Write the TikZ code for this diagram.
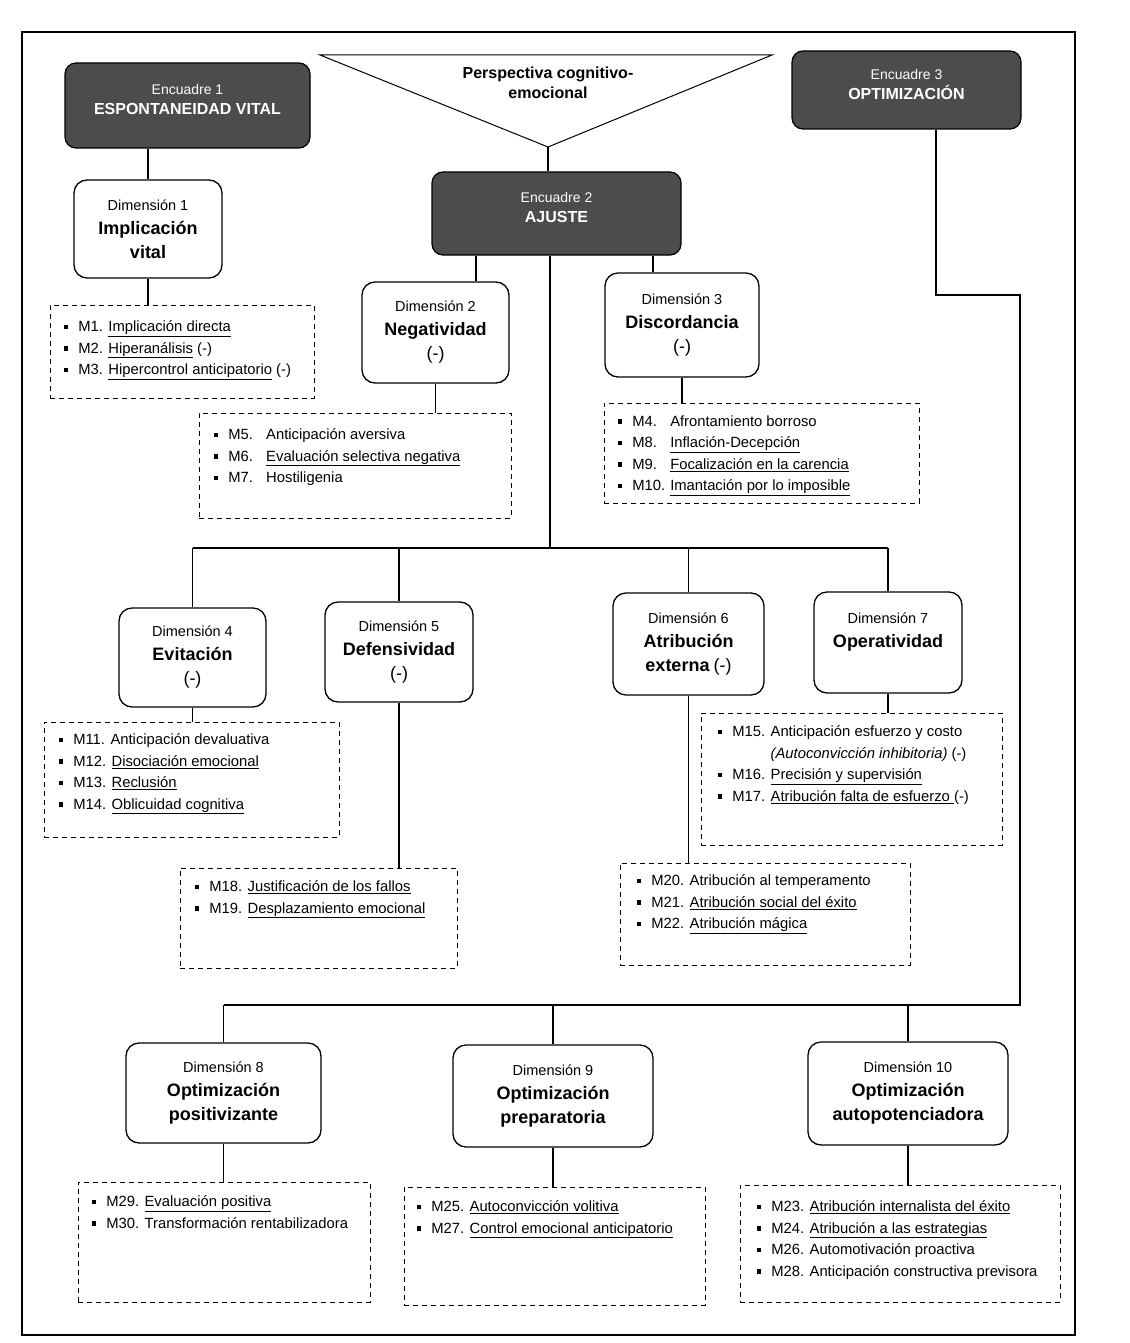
\documentclass[tikz,border=0pt]{standalone}
\usepackage{fontspec}
\setmainfont{Liberation Sans}
\usetikzlibrary{positioning}

\definecolor{encfill}{gray}{0.3}

\newcommand{\sqbul}{\raisebox{2.5pt}{\rule{4.5pt}{4.5pt}}\hspace{10pt}}
\newcommand{\mlab}[1]{\makebox[38pt][l]{#1}}
\newcommand{\itemfont}{\fontsize{14.8}{21.5}\selectfont}
\newcommand{\enctitle}[1]{{\fontsize{16}{20}\selectfont\bfseries #1}\rule[-12pt]{0pt}{0pt}}
\newcommand{\dimtitle}[1]{{\fontsize{18}{24}\selectfont\bfseries #1}}
\newcommand{\dimsign}{{\fontsize{18}{24}\selectfont (-)}}

\tikzset{
  encuadre/.style={draw=black, line width=1.2pt, fill=encfill, text=white,
    rounded corners=11pt, align=center, font=\fontsize{14}{20}\selectfont},
  dimbox/.style={draw, line width=1.3pt, rounded corners=13pt, fill=white,
    align=center, font=\fontsize{14.5}{24}\selectfont},
  mbox/.style={draw, line width=0.9pt, dash pattern=on 5pt off 4pt},
  mlist/.style={anchor=north west, align=left, inner sep=0pt, font=\itemfont},
  link/.style={line width=1.1pt},
}

\begin{document}
\begin{tikzpicture}[x=1pt, y=-1pt]
    \useasboundingbox (0,0) rectangle (1129,1343);

    % Outer frame
    \draw[line width=1.3pt] (22,32) rectangle (1075,1335);

    % Perspective triangle
    \coordinate (tl) at (320,55);
    \coordinate (tr) at (772,55);
    \coordinate (tb) at (548,147);
    \draw[line width=1pt] (tl) -- (tr) -- (tb) -- cycle;
    \node[align=center, font=\fontsize{16}{20}\selectfont\bfseries] (persp) at (548,83)
        {Perspectiva cognitivo-\\emocional};

    % Encuadres
    \node[encuadre, minimum width=245, minimum height=85] (e1) at (187.5,105.5)
        {Encuadre 1\\ \enctitle{ESPONTANEIDAD VITAL}};
    \node[encuadre, minimum width=249, minimum height=83] (e2) at (556.5,213.5)
        {Encuadre 2\\ \enctitle{AJUSTE}};
    \node[encuadre, minimum width=229, minimum height=78] (e3) at (906.5,90)
        {Encuadre 3\\ \enctitle{OPTIMIZACIÓN}};

    % Dimensions
    \node[dimbox, minimum width=148, minimum height=98] (d1) at (148,229)
        {Dimensión 1\\ \dimtitle{Implicación}\\ \dimtitle{vital}};
    \node[dimbox, minimum width=147, minimum height=101] (d2) at (435.5,332.5)
        {Dimensión 2\\ \dimtitle{Negatividad}\\ \dimsign};
    \node[dimbox, minimum width=154, minimum height=104] (d3) at (682,325)
        {Dimensión 3\\ \dimtitle{Discordancia}\\ \dimsign};
    \node[dimbox, minimum width=147, minimum height=99] (d4) at (192.5,657.5)
        {Dimensión 4\\ \dimtitle{Evitación}\\ \dimsign};
    \node[dimbox, minimum width=148, minimum height=100] (d5) at (399,652)
        {Dimensión 5\\ \dimtitle{Defensividad}\\ \dimsign};
    \node[dimbox, minimum width=151, minimum height=102] (d6) at (688.5,644)
        {Dimensión 6\\ \dimtitle{Atribución}\\ \dimtitle{externa} \dimsign};
    \node[dimbox, minimum width=148, minimum height=101] (d7) at (888,642.5)
        {Dimensión 7\\ \dimtitle{Operatividad}\\ \mbox{}};
    \node[dimbox, minimum width=195, minimum height=100] (d8) at (223.5,1093)
        {Dimensión 8\\ \dimtitle{Optimización}\\ \dimtitle{positivizante}};
    \node[dimbox, minimum width=200, minimum height=102] (d9) at (553,1096)
        {Dimensión 9\\ \dimtitle{Optimización}\\ \dimtitle{preparatoria}};
    \node[dimbox, minimum width=200, minimum height=103] (d10) at (908,1093.5)
        {Dimensión 10\\ \dimtitle{Optimización}\\ \dimtitle{autopotenciadora}};

    % Dashed lists of M items
    \node[mbox, minimum width=264, minimum height=93] (m1) at (182,351.5) {};
    \node[mlist] (l1) at ([xshift=14pt,yshift=-16pt]m1.north west)
        {\sqbul M1. \underline{Implicación directa}\\
         \sqbul M2. \underline{Hiperanálisis} (-)\\
         \sqbul M3. \underline{Hipercontrol anticipatorio} (-)};

    \node[mbox, minimum width=312, minimum height=105] (m2) at (355,465.5) {};
    \node[mlist] (l2) at ([xshift=15pt,yshift=-16pt]m2.north west)
        {\sqbul\mlab{M5.}Anticipación aversiva\\
         \sqbul\mlab{M6.}\underline{Evaluación selectiva negativa}\\
         \sqbul\mlab{M7.}Hostiligenia};

    \node[mbox, minimum width=315, minimum height=100] (m3) at (761.5,453) {};
    \node[mlist] (l3) at ([xshift=14pt,yshift=-13pt]m3.north west)
        {\sqbul\mlab{M4.}Afrontamiento borroso\\
         \sqbul\mlab{M8.}\underline{Inflación-Decepción}\\
         \sqbul\mlab{M9.}\underline{Focalización en la carencia}\\
         \sqbul\mlab{M10.}\underline{Imantación por lo imposible}};

    \node[mbox, minimum width=295, minimum height=115] (m4) at (191.5,779.5) {};
    \node[mlist] (l4) at ([xshift=15pt,yshift=-12pt]m4.north west)
        {\sqbul M11. Anticipación devaluativa\\
         \sqbul M12. \underline{Disociación emocional}\\
         \sqbul M13. \underline{Reclusión}\\
         \sqbul M14. \underline{Oblicuidad cognitiva}};

    \node[mbox, minimum width=277, minimum height=100] (m5) at (318.5,918) {};
    \node[mlist] (l5) at ([xshift=15pt,yshift=-13pt]m5.north west)
        {\sqbul M18. \underline{Justificación de los fallos}\\
         \sqbul M19. \underline{Desplazamiento emocional}};

    \node[mbox, minimum width=301, minimum height=132] (m6) at (851.5,779) {};
    \node[mlist] (l6) at ([xshift=17pt,yshift=-13pt]m6.north west)
        {\sqbul M15. Anticipación esfuerzo y costo\\
         \phantom{\sqbul M15. }\textit{(Autoconvicción inhibitoria)} (-)\\
         \sqbul M16. \underline{Precisión y supervisión}\\
         \sqbul M17. \underline{Atribución falta de esfuerzo\ }(-)};

    \node[mbox, minimum width=290, minimum height=102] (m7) at (765,914) {};
    \node[mlist] (l7) at ([xshift=17pt,yshift=-12pt]m7.north west)
        {\sqbul M20. Atribución al temperamento\\
         \sqbul M21. \underline{Atribución social del éxito}\\
         \sqbul M22. \underline{Atribución mágica}};

    \node[mbox, minimum width=292, minimum height=120] (m8) at (224,1242) {};
    \node[mlist] (l8) at ([xshift=14pt,yshift=-14pt]m8.north west)
        {\sqbul M29. \underline{Evaluación positiva}\\
         \sqbul M30. Transformación rentabilizadora};

    \node[mbox, minimum width=301, minimum height=118] (m9) at (554.5,1246) {};
    \node[mlist] (l9) at ([xshift=13pt,yshift=-14pt]m9.north west)
        {\sqbul M25. \underline{Autoconvicción volitiva}\\
         \sqbul M27. \underline{Control emocional anticipatorio}};

    \node[mbox, minimum width=320, minimum height=117] (m10) at (900,1243.5) {};
    \node[mlist] (l10) at ([xshift=17pt,yshift=-16pt]m10.north west)
        {\sqbul M23. \underline{Atribución internalista del éxito}\\
         \sqbul M24. \underline{Atribución a las estrategias}\\
         \sqbul M26. Automotivación proactiva\\
         \sqbul M28. Anticipación constructiva previsora};

    % Junction points
    \coordinate (j2) at (476,0);
    \coordinate (j3) at (653,0);
    \coordinate (bar1) at (550,548);
    \coordinate (k1) at (936,295);
    \coordinate (k2) at (1020,295);
    \coordinate (bar2) at (1020,1005);

    % Connectors
    \draw[link] (tb) -- (tb |- e2.north);
    \draw[link] (d1.north |- e1.south) -- (d1.north);
    \draw[link] (d1.south) -- (d1.south |- m1.north);
    \draw[link] (j2 |- e2.south) -- (j2 |- d2.north);
    \draw[link] (j3 |- e2.south) -- (j3 |- d3.north);
    \draw[link] (d2.south) -- (d2.south |- m2.north);
    \draw[link] (d3.south) -- (d3.south |- m3.north);
    \draw[link] (bar1 |- e2.south) -- (bar1);
    \draw[link] (d4.north |- bar1) -- (d7.north |- bar1);
    \foreach \d in {d4,d5,d6,d7}
        \draw[link] (\d.north |- bar1) -- (\d.north);
    \draw[link] (d4.south) -- (d4.south |- m4.north);
    \draw[link] (d5.south) -- (d5.south |- m5.north);
    \draw[link] (d6.south) -- (d6.south |- m7.north);
    \draw[link] (d7.south) -- (d7.south |- m6.north);
    \draw[link] (k1 |- e3.south) -- (k1) -- (k2) -- (bar2) -- (d8.north |- bar2);
    \foreach \d in {d8,d9,d10}
        \draw[link] (\d.north |- bar2) -- (\d.north);
    \draw[link] (d8.south) -- (d8.south |- m8.north);
    \draw[link] (d9.south) -- (d9.south |- m9.north);
    \draw[link] (d10.south) -- (d10.south |- m10.north);
\end{tikzpicture}
\end{document}
